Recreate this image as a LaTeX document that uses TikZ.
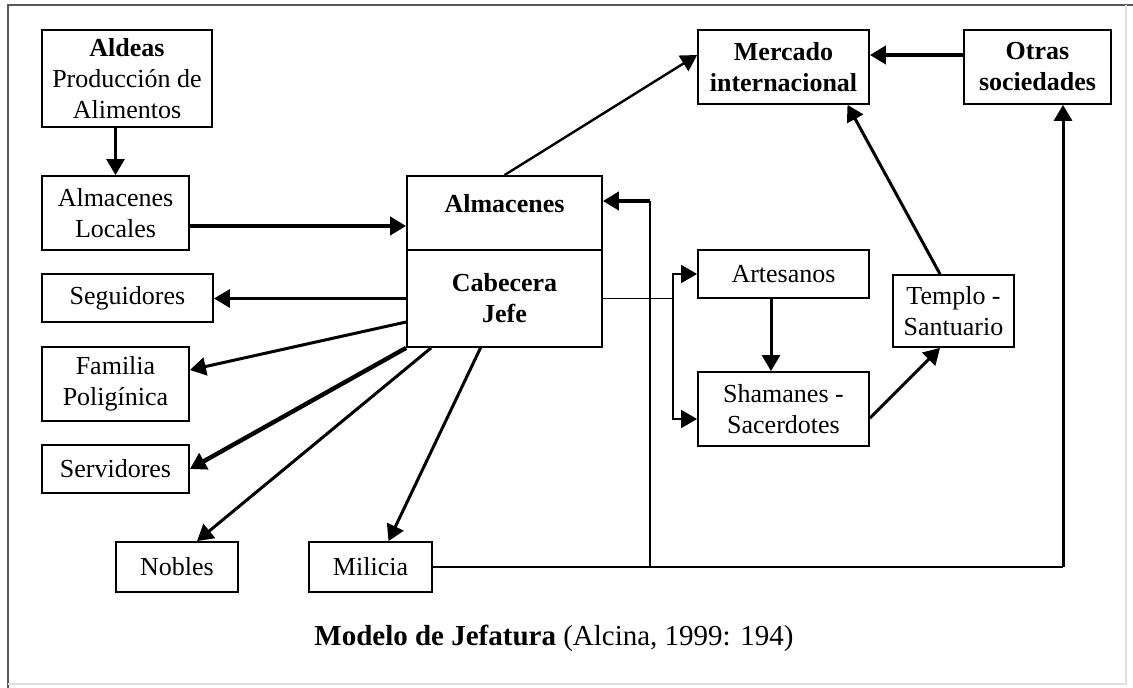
\documentclass[tikz,border=0pt]{standalone}
\usepackage{fontspec}
\setmainfont{Liberation Serif}
\usetikzlibrary{arrows.meta,positioning,calc}

\begin{document}
\begin{tikzpicture}[
    x=0.5pt, y=-0.5pt,
    >={Triangle[length=8pt,width=9pt]},
    box/.style={rectangle, draw, line width=0.9pt, inner sep=0pt, align=center, font=\fontsize{13}{15.5}\selectfont},
    boldbox/.style={box, font=\fontsize{13}{15.5}\selectfont\bfseries},
    arrow/.style={->, line width=1.5pt},
    bigarrow/.style={->, line width=2.2pt},
    thinline/.style={line width=0.9pt}
]
\useasboundingbox (0,0) rectangle (1133,688);

% Frame
\draw[line width=1pt, black!65] (1133,5) -- (8,5) -- (8,688);
\draw[line width=0.75pt, black!12] (1126,5) -- (1126,684) -- (8,684);

% Left column
\node[box, minimum width=85pt, minimum height=48.5pt] (aldeas) at (127,78.5) {\textbf{Aldeas}\\Producción de\\Alimentos};
\node[box, minimum width=73.5pt, minimum height=37pt] (almloc) at (115.5,213) {Almacenes\\Locales};
\node[box, minimum width=85.5pt, minimum height=24pt] (seguidores) at (127.5,298) {Seguidores};
\node[box, minimum width=73.5pt, minimum height=37pt] (familia) at (115.5,384) {Familia\\Poligínica};
\node[box, minimum width=73.5pt, minimum height=24pt] (servidores) at (115.5,469) {Servidores};
\node[box, minimum width=61pt, minimum height=25pt] (nobles) at (177,567) {Nobles};
\node[box, minimum width=61.5pt, minimum height=25pt] (milicia) at (370.5,567) {Milicia};

% Chief
\node[boldbox, minimum width=97.5pt, minimum height=37pt, text depth=10pt] (almacenes) at (504.5,213) {Almacenes};
\node[boldbox, minimum width=97.5pt, minimum height=48.5pt] (cabecera) at (504.5,298.5) {Cabecera\\Jefe};

% Right side
\node[boldbox, minimum width=85.5pt, minimum height=37pt] (mercado) at (783.5,67) {Mercado\\internacional};
\node[boldbox, minimum width=73.5pt, minimum height=37pt] (otras) at (1037.5,67) {Otras\\sociedades};
\node[box, minimum width=85.5pt, minimum height=24pt] (artesanos) at (783.5,274) {Artesanos};
\node[box, minimum width=85.5pt, minimum height=37pt] (shamanes) at (783.5,409) {Shamanes -\\Sacerdotes};
\node[box, minimum width=60.5pt, minimum height=36pt] (templo) at (953.5,311) {Templo -\\Santuario};

% Stores and market
\draw[arrow] (almloc.north |- aldeas.south) -- (almloc.north);
\draw[bigarrow] ([yshift=-6.5pt]almloc.east) -- ([yshift=-6.5pt]almacenes.west);
\draw[arrow, line width=1.2pt] (almacenes.north) -- ([yshift=6pt]mercado.west);
\draw[bigarrow] ([yshift=6pt]otras.west) -- ([yshift=6pt]mercado.east);
\draw[arrow] ([xshift=-6.75pt]templo.north) -- ([xshift=32pt]mercado.south);
\draw[arrow] ([yshift=-4.5pt]shamanes.east) -- ([xshift=-6.75pt]templo.south);
\draw[arrow] ([xshift=-6.25pt]artesanos.south) -- ([xshift=-6.25pt]shamanes.north);

% Chief to artisans and shamans
\coordinate (split) at (673,298);
\coordinate (shin) at ([yshift=-5pt]shamanes.west);
\draw[thinline] (cabecera.east) -- (cabecera.east -| split);
\draw[thinline, <->] (artesanos.west) -- (artesanos.west -| split) -- (shin -| split) -- (shin);

% Chief to dependents
\draw[arrow] (cabecera.west) -- (cabecera.west -| seguidores.east);
\draw[arrow] ([yshift=-11.75pt]cabecera.west) -- ([yshift=7pt]familia.east);
\draw[bigarrow] (cabecera.south west) -- (servidores.east);
\draw[arrow] ([xshift=12.5pt]cabecera.south west) -- ([xshift=10pt]nobles.north);
\draw[arrow] ([xshift=-12pt]cabecera.south) -- ([xshift=9pt]milicia.north);

% Milicia to other societies and back to stores
\coordinate (corner) at (1063,567);
\coordinate (back) at (650,567);
\coordinate (elbow) at (650,201);
\draw[thinline] (milicia.east) -- (corner);
\draw[arrow] (corner) -- (corner |- otras.south);
\draw[thinline] (back) -- (elbow);
\draw[bigarrow] (elbow) -- (elbow -| almacenes.east);

% Caption
\node[font=\fontsize{14.5}{17}\selectfont, anchor=base] (caption) at (554,645) {\textbf{Modelo de Jefatura} (Alcina, 1999: 194)};

\end{tikzpicture}
\end{document}
